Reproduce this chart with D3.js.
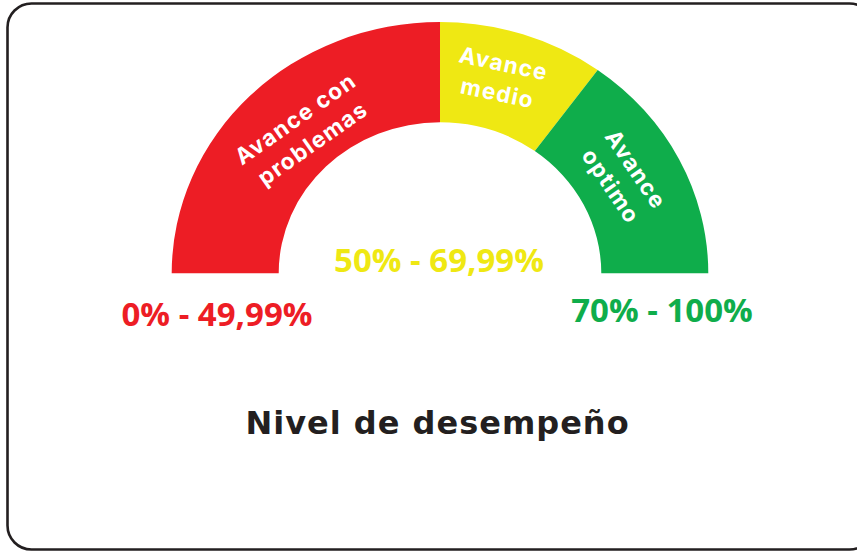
<!DOCTYPE html>
<html>
<head>
<meta charset="utf-8">
<script src="https://cdn.jsdelivr.net/npm/d3@7"></script>
<style>
  html, body { margin: 0; padding: 0; background: #ffffff; }
  svg { display: block; }
</style>
</head>
<body>
<svg id="chart" width="857" height="552"></svg>
<script>
// Performance bands of the dial (percent of the 0–100 scale)
const bandNames  = ["Avance con problemas", "Avance medio", "Avance optimo"];
const bandStart  = [0, 50, 70];
const bandEnd    = [50, 70, 100];
const bandLines  = [["Avance con", "problemas"], ["Avance", "medio"], ["Avance", "optimo"]];
const rangeTexts = ["0% - 49,99%", "50% - 69,99%", "70% - 100%"];
const bandColors = ["#ed1d25", "#efe813", "#0fad4b"];
const title = "Nivel de desempeño";

// Layout
const W = 857, H = 552;
const cx = 440, cy = 273.3;
const outerR = 268.3, innerR = 161.3;
const squash = 0.9366;           // the dial is drawn as a slightly flattened half-ellipse

// Band-label placement: angle from vertical (deg), radius, text rotation (deg)
const labelLayout = [
  { ang: -41.8, r: 204, rot: -35 },
  { ang: 16.2,  r: 217, rot: 12 },
  { ang: 60.9,  r: 210, rot: 56 }
];
// Range-label anchor points (centre x, baseline y)
const rangeLayout = [
  { x: 217, y: 326 },
  { x: 439, y: 272 },
  { x: 662, y: 322 }
];

const svg = d3.select("#chart");

// Frame
svg.append("rect")
  .attr("x", 7.5).attr("y", 3.5)
  .attr("width", 866).attr("height", 546)
  .attr("rx", 24).attr("ry", 24)
  .attr("fill", "#ffffff")
  .attr("stroke", "#231f20")
  .attr("stroke-width", 2.6);

// Value -> angle on the half dial
const angle = d3.scaleLinear().domain([0, 100]).range([-Math.PI / 2, Math.PI / 2]);

const arc = d3.arc()
  .innerRadius(innerR)
  .outerRadius(outerR)
  .startAngle((d, i) => angle(bandStart[i]))
  .endAngle((d, i) => angle(bandEnd[i]));

const dial = svg.append("g")
  .attr("transform", `translate(${cx},${cy}) scale(1,${squash})`);

dial.selectAll("path.band")
  .data(bandNames)
  .join("path")
  .attr("class", "band")
  .attr("d", (d, i) => arc(d, i))
  .attr("fill", (d, i) => bandColors[i]);

// Band labels inside the arc
const labels = svg.append("g");
bandLines.forEach((lines, i) => {
  const L = labelLayout[i];
  const a = L.ang * Math.PI / 180;
  const x = cx + L.r * Math.sin(a);
  const y = cy - L.r * Math.cos(a) * squash;
  const t = labels.append("text")
    .attr("transform", `translate(${x},${y}) rotate(${L.rot})`)
    .attr("text-anchor", "middle")
    .attr("font-family", "Inter, 'Noto Sans', sans-serif")
    .attr("font-weight", 700)
    .attr("font-size", 22.5)
    .attr("letter-spacing", 1.3)
    .attr("fill", "#ffffff");
  lines.forEach((s, k) => {
    t.append("tspan")
      .attr("x", 0)
      .attr("y", (k - (lines.length - 1) / 2) * 30 + 8)
      .text(s);
  });
});

// Range labels
svg.append("g").selectAll("text")
  .data(rangeTexts)
  .join("text")
  .attr("x", (d, i) => rangeLayout[i].x)
  .attr("y", (d, i) => rangeLayout[i].y)
  .attr("text-anchor", "middle")
  .attr("font-family", "'Open Sans', sans-serif")
  .attr("font-weight", 700)
  .attr("font-size", 33)
  .attr("fill", (d, i) => bandColors[i])
  .text(d => d);

// Title
svg.append("text")
  .attr("x", 437.5)
  .attr("y", 434)
  .attr("text-anchor", "middle")
  .attr("font-family", "'DejaVu Sans', sans-serif")
  .attr("font-weight", 700)
  .attr("font-size", 32)
  .attr("letter-spacing", 1.0)
  .attr("fill", "#231f20")
  .text(title);
</script>
</body>
</html>
